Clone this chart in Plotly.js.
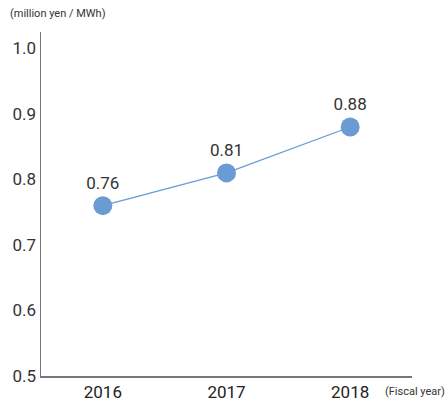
<!DOCTYPE html>
<html>
<head>
<meta charset="utf-8">
<script src="https://cdn.plot.ly/plotly-3.0.1.min.js"></script>
<style>body{margin:0;background:#fff}#chart{width:445px;height:401px}</style>
</head>
<body>
<div id="chart"></div>
<script>
var years = [2016, 2017, 2018];
var unitPrice = [0.76, 0.81, 0.88];
var labels = ['0.76', '0.81', '0.88'];

var font = 'Roboto, Arial, sans-serif';

var trace = {
  x: years,
  y: unitPrice,
  type: 'scatter',
  mode: 'lines+markers+text',
  text: labels,
  textposition: 'top center',
  textfont: {family: font, size: 17, color: '#333'},
  line: {color: '#6a9bd3', width: 1.3},
  marker: {color: '#6a9bd3', size: 19},
  cliponaxis: false,
  hoverinfo: 'none'
};

var layout = {
  width: 445,
  height: 401,
  margin: {l: 41, r: 33, t: 32, b: 25},
  showlegend: false,
  paper_bgcolor: '#fff',
  plot_bgcolor: '#fff',
  font: {family: font, size: 17, color: '#333'},
  xaxis: {
    range: [2015.5, 2018.5],
    tickvals: years,
    ticktext: years.map(String),
    showgrid: false,
    zeroline: false,
    showline: true,
    linecolor: '#777',
    linewidth: 1.5,
    ticks: '',
    tickfont: {family: font, size: 17, color: '#222'}
  },
  yaxis: {
    range: [0.5, 1.025],
    tickvals: [0.5, 0.6, 0.7, 0.8, 0.9, 1.0],
    ticktext: ['0.5', '0.6', '0.7', '0.8', '0.9', '1.0'],
    showgrid: false,
    zeroline: false,
    showline: true,
    linecolor: '#777',
    linewidth: 1.5,
    ticks: '',
    tickfont: {family: font, size: 17, color: '#333'}
  },
  annotations: [
    {text: '(million yen / MWh)', xref: 'paper', yref: 'paper', x: -0.089, y: 1.055,
     xanchor: 'left', yanchor: 'middle', showarrow: false,
     font: {family: font, size: 11, color: '#333'}},
    {text: '(Fiscal year)', xref: 'paper', yref: 'paper', x: 0.922, y: -0.044,
     xanchor: 'left', yanchor: 'middle', showarrow: false,
     font: {family: font, size: 11, color: '#333'}}
  ]
};

Plotly.newPlot('chart', [trace], layout, {displayModeBar: false, staticPlot: true});
</script>
</body>
</html>
